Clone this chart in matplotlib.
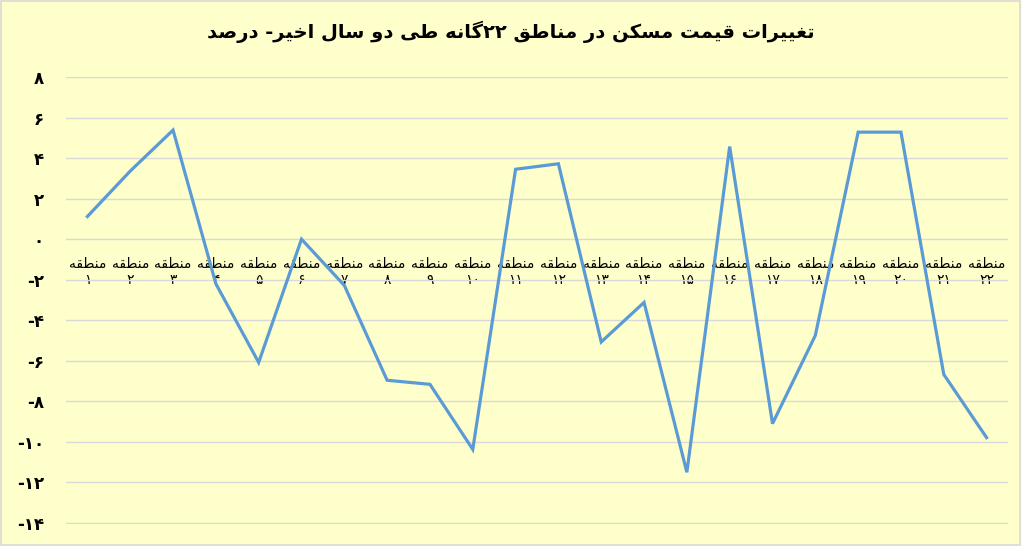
import re
import matplotlib
matplotlib.use('Agg')
import matplotlib.pyplot as plt
from matplotlib.patches import Rectangle

# ---------------- data ----------------
TITLE = "تغییرات قیمت مسکن در مناطق ۲۲گانه طی دو سال اخیر- درصد"
REGION_WORD = "منطقه"
region_numbers = ["۱", "۲", "۳", "۴", "۵", "۶", "۷", "۸", "۹", "۱۰", "۱۱",
                  "۱۲", "۱۳", "۱۴", "۱۵", "۱۶", "۱۷", "۱۸", "۱۹", "۲۰", "۲۱", "۲۲"]
price_change = [1.12, 3.36, 5.38, -2.2, -6.08, 0.0, -2.28, -6.96, -7.16, -10.37, 3.45,
                3.72, -5.07, -3.12, -11.5, 4.57, -9.1, -4.75, 5.28, 5.28, -6.67, -9.79]
y_ticks = [8, 6, 4, 2, 0, -2, -4, -6, -8, -10, -12, -14]
y_tick_labels = ["۸", "۶", "۴", "۲", "۰", "-۲", "-۴", "-۶", "-۸", "-۱۰", "-۱۲", "-۱۴"]

# ---------------- simple Persian shaping (presentation forms + visual order) ----------------
_F = {
    'ا': 'FE8D FE8E', 'د': 'FEA9 FEAA', 'ر': 'FEAD FEAE', 'و': 'FEED FEEE',
    'ت': 'FE95 FE96 FE97 FE98', 'خ': 'FEA5 FEA6 FEA7 FEA8',
    'س': 'FEB1 FEB2 FEB3 FEB4', 'ص': 'FEB9 FEBA FEBB FEBC',
    'ط': 'FEC1 FEC2 FEC3 FEC4', 'غ': 'FECD FECE FECF FED0',
    'ق': 'FED5 FED6 FED7 FED8', 'ل': 'FEDD FEDE FEDF FEE0',
    'م': 'FEE1 FEE2 FEE3 FEE4', 'ن': 'FEE5 FEE6 FEE7 FEE8',
    'ه': 'FEE9 FEEA FEEB FEEC', 'ک': 'FB8E FB8F FB90 FB91',
    'گ': 'FB92 FB93 FB94 FB95', 'ی': 'FBFC FBFD FBFE FBFF',
}
FORMS = {k: [chr(int(h, 16)) for h in v.split()] for k, v in _F.items()}


def _dual(c):
    return c in FORMS and len(FORMS[c]) == 4


def shape(text):
    out = []
    i, n = 0, len(text)
    while i < n:
        c = text[i]
        if c not in FORMS:
            out.append(c)
            i += 1
            continue
        prev = text[i - 1] if i > 0 else ''
        jp = _dual(prev)
        if c == 'ل' and i + 1 < n and text[i + 1] == 'ا':
            out.append('\uFEFC' if jp else '\uFEFB')
            i += 2
            continue
        nxt = text[i + 1] if i + 1 < n else ''
        jn = _dual(c) and nxt in FORMS
        f = FORMS[c]
        if jp and jn:
            g = f[3]
        elif jp:
            g = f[1]
        elif jn:
            g = f[2]
        else:
            g = f[0]
        out.append(g)
        i += 1
    s = ''.join(out)[::-1]
    s = re.sub(r'[0-9\u06F0-\u06F9]+', lambda m: m.group(0)[::-1], s)
    return s


# ---------------- plot ----------------
BG = '#FFFFCC'
plt.rcParams['font.family'] = ['DejaVu Sans']

fig = plt.figure(figsize=(10.22, 5.46), dpi=100, facecolor=BG)
ax = fig.add_axes([66 / 1022, 1 - 524 / 546, (1008 - 66) / 1022, (524 - 77) / 546])
ax.set_facecolor(BG)

x = list(range(1, len(price_change) + 1))
ax.plot(x, price_change, color='#5B9BD5', lw=2.3, solid_joinstyle='miter', zorder=3)

ax.set_xlim(0.5, len(price_change) + 0.5)
ax.set_ylim(-14.05, 8)
ax.set_yticks(y_ticks)
ax.set_yticklabels(y_tick_labels, fontsize=12, fontweight='bold')
ax.yaxis.grid(True, color='#D9D9D9', lw=1.0)
ax.set_axisbelow(True)
ax.tick_params(axis='y', length=0, pad=16)

cat_labels = [shape(REGION_WORD) + "\n" + num for num in region_numbers]
ax.set_xticks(x)
ax.set_xticklabels(cat_labels, fontsize=10.5, linespacing=1.25)
ax.spines['bottom'].set_position(('data', 0))
ax.tick_params(axis='x', length=0, pad=13)

for sp in ax.spines.values():
    sp.set_visible(False)

fig.text(0.5, 1 - 32 / 546, shape(TITLE), ha='center', va='center',
         fontsize=14, fontweight='bold')

fig.patches.append(Rectangle((0.001, 0.002), 0.997, 0.996, transform=fig.transFigure,
                             fill=False, edgecolor='#D9D9D9', lw=1.2))

fig.savefig('out.png', dpi=100, facecolor=BG)
